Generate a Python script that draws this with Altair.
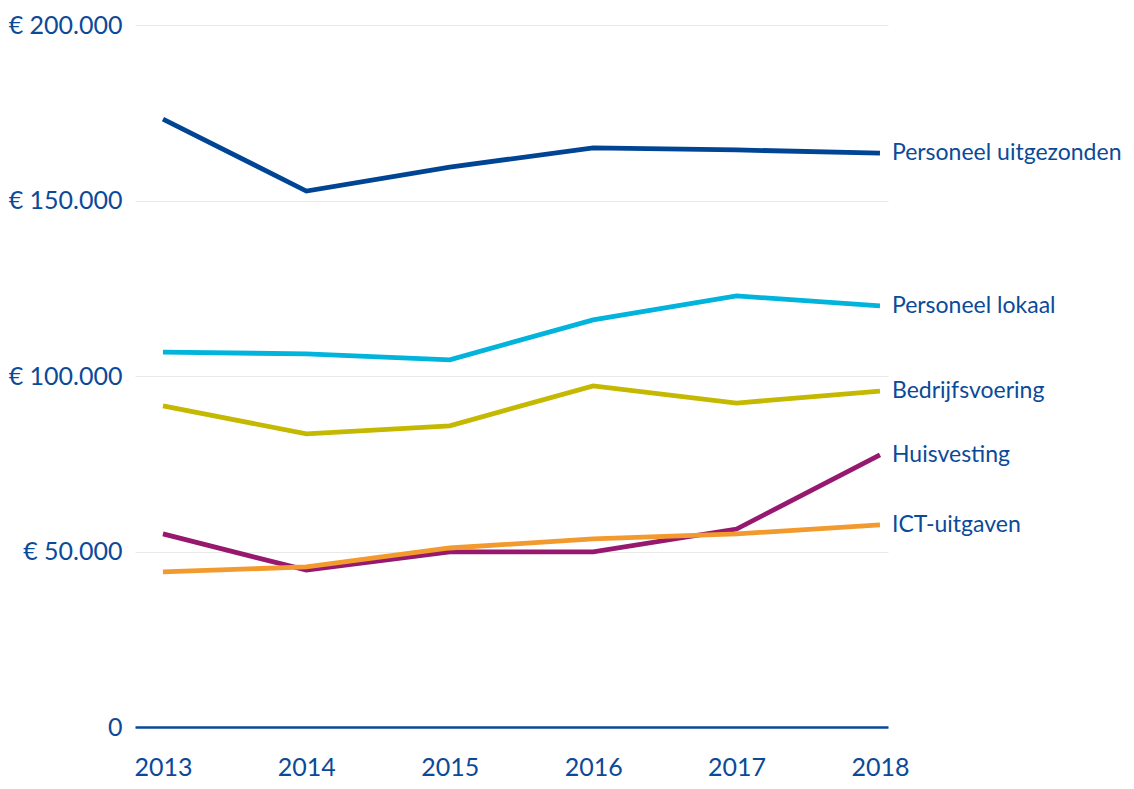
import altair as alt
import pandas as pd

years = [2013, 2014, 2015, 2016, 2017, 2018]
series = ["Personeel uitgezonden", "Personeel lokaal", "Bedrijfsvoering", "Huisvesting", "ICT-uitgaven"]
personeel_uitgezonden = [173200, 152700, 159500, 165000, 164400, 163500]
personeel_lokaal = [106800, 106300, 104600, 116000, 122800, 120000]
bedrijfsvoering = [91500, 83500, 85800, 97200, 92300, 95700]
huisvesting = [55000, 44700, 49900, 49900, 56400, 77500]
ict_uitgaven = [44200, 45600, 51000, 53600, 55000, 57600]
colors = ["#004494", "#00b4dc", "#c4b900", "#96186f", "#f39a2e"]

values = [personeel_uitgezonden, personeel_lokaal, bedrijfsvoering, huisvesting, ict_uitgaven]
rows = []
for s, vals in zip(series, values):
    for i, (y, v) in enumerate(zip(years, vals)):
        rows.append({"year": y, "value": v, "series": s, "last": i == len(years) - 1})
df = pd.DataFrame(rows)

TEXT = "#0b4a99"
FONT = "Lato"

x = alt.X("year:Q", scale=alt.Scale(domain=[2012.805, 2018.056], nice=False, zero=False),
          axis=alt.Axis(values=years, format="d", title=None, grid=False, ticks=False,
                        domainColor="#0a4a9a", domainWidth=2.5, labelPadding=28,
                        labelFont=FONT, labelFontSize=25, labelColor=TEXT))
y = alt.Y("value:Q", scale=alt.Scale(domain=[0, 200000], nice=False),
          axis=alt.Axis(values=[0, 50000, 100000, 150000, 200000], title=None, domain=False, ticks=False,
                        gridColor="#e9e9e9", gridWidth=1.2, labelPadding=13,
                        labelExpr="datum.value == 0 ? '0' : '€ ' + replace(format(datum.value, ','), ',', '.')",
                        labelFont=FONT, labelFontSize=25, labelColor=TEXT))
color = alt.Color("series:N", scale=alt.Scale(domain=series, range=colors), legend=None)

base = alt.Chart(df)
lines = alt.layer(*[
    base.transform_filter(alt.datum.series == s).mark_line(strokeWidth=4.8).encode(x=x, y=y, color=color)
    for s in series
])
labels = base.transform_filter(alt.datum.last).mark_text(
    align="left", baseline="middle", dx=12, font=FONT, fontSize=23, color=TEXT
).encode(x=x, y=y, text="series:N")

chart = alt.layer(lines, labels).properties(
    width=753, height=702,
    autosize=alt.AutoSizeParams(type="none"),
    padding={"left": 127, "top": 17, "right": 238, "bottom": 54},
).configure_view(stroke=None)

chart.save("out.html", embed_options={"renderer": "svg", "actions": False})
